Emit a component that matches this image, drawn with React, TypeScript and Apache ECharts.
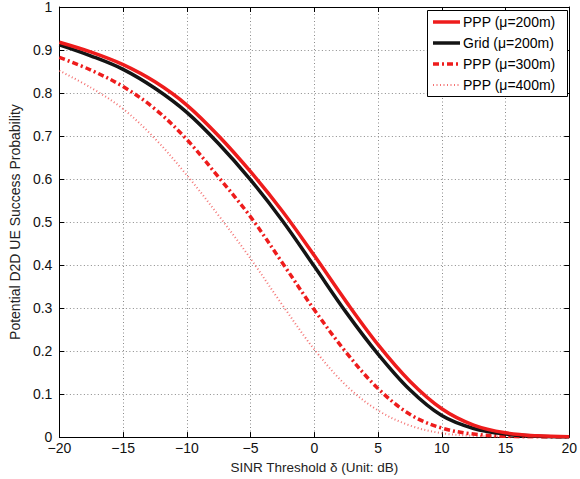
import React, { useEffect, useRef } from "react";
import * as echarts from "echarts";

const thresholds = [-20, -17.5, -15, -12.5, -10, -7.5, -5, -2.5, 0, 2.5, 5, 7.5, 10, 12.5, 15, 17.5, 20];
const ppp200 = [0.918, 0.895, 0.866, 0.826, 0.772, 0.70, 0.617, 0.525, 0.422, 0.315, 0.215, 0.13, 0.066, 0.028, 0.01, 0.003, 0.001];
const grid200 = [0.912, 0.886, 0.855, 0.811, 0.755, 0.682, 0.598, 0.503, 0.397, 0.29, 0.193, 0.11, 0.05, 0.02, 0.007, 0.002, 0.0005];
const ppp300 = [0.883, 0.853, 0.815, 0.763, 0.692, 0.604, 0.512, 0.405, 0.296, 0.197, 0.113, 0.053, 0.021, 0.007, 0.002, 0.0006, 0.0002];
const ppp400 = [0.852, 0.812, 0.763, 0.694, 0.609, 0.515, 0.415, 0.307, 0.204, 0.12, 0.062, 0.027, 0.009, 0.003, 0.001, 0.0003, 0.0001];
const seriesNames = ["PPP (\u03bc=200m)", "Grid (\u03bc=200m)", "PPP (\u03bc=300m)", "PPP (\u03bc=400m)"];

const FONT = "Liberation Sans, Arial, Helvetica, sans-serif";
const RED = "#ee1c1c";
const BLACK = "#141414";
const PINK = "#f25a5a";

const styles = [
  { color: RED, width: 3.5, dash: null as number[] | null, opacity: 1 },
  { color: BLACK, width: 3.5, dash: null as number[] | null, opacity: 1 },
  { color: RED, width: 3.5, dash: [6, 3, 2, 3], opacity: 1 },
  { color: PINK, width: 2, dash: [1, 2.5], opacity: 0.85 },
];

export default function App() {
  const ref = useRef<HTMLDivElement>(null);
  useEffect(() => {
    if (!ref.current) return;
    const chart = echarts.init(ref.current, undefined, { renderer: "svg" });
    const pairs = (v: number[]) => thresholds.map((x, i) => [x, v[i]]);
    const gridLine = { show: true, lineStyle: { color: "#8a8a8a", width: 1, type: [1, 2.5] as any } };
    const axLine = { show: true, onZero: false, lineStyle: { color: "#000", width: 1 } };
    const ticks = { show: true, inside: true, length: 5, lineStyle: { color: "#000" } };
    const allData = [ppp200, grid200, ppp300, ppp400];
    const series = allData.map((d, i) => ({
      type: "line" as const,
      name: seriesNames[i],
      showSymbol: false,
      symbol: "none",
      smooth: 0.35,
      data: pairs(d),
      z: 10 - i,
      itemStyle: { color: styles[i].color },
      lineStyle: {
        color: styles[i].color,
        width: styles[i].width,
        type: (styles[i].dash || "solid") as any,
        opacity: styles[i].opacity,
      },
    }));

    const lx = 427, ly = 10, lw = 140, lh = 86;
    const legendEls: any[] = [
      {
        type: "rect",
        shape: { x: lx + 0.5, y: ly + 0.5, width: lw, height: lh },
        style: { fill: "#fff", stroke: "#000", lineWidth: 1 },
        z: 100,
      },
    ];
    seriesNames.forEach((n, i) => {
      const yy = ly + 12 + i * 21;
      legendEls.push({
        type: "line",
        shape: { x1: lx + 6, y1: yy, x2: lx + 33, y2: yy },
        style: {
          stroke: styles[i].color,
          lineWidth: styles[i].width,
          lineDash: styles[i].dash || undefined,
          opacity: styles[i].opacity,
        },
        z: 101,
      });
      legendEls.push({
        type: "text",
        x: lx + 36,
        y: yy,
        style: {
          text: n,
          fontSize: 14,
          fontFamily: FONT,
          fill: "#000",
          verticalAlign: "middle",
          textAlign: "left",
        },
        z: 101,
      });
    });

    chart.setOption({
      animation: false,
      textStyle: { fontFamily: FONT },
      grid: { left: 51, right: 8, top: 6, bottom: 41, containLabel: false },
      xAxis: [
        {
          type: "value",
          min: -20,
          max: 20,
          interval: 5,
          name: "SINR Threshold \u03b4 (Unit: dB)",
          nameLocation: "middle",
          nameGap: 22,
          nameTextStyle: { fontSize: 13.5, color: "#222", fontFamily: FONT },
          axisLine: axLine,
          axisTick: ticks,
          splitLine: gridLine,
          axisLabel: {
            fontSize: 14,
            color: "#111",
            margin: 4,
            fontFamily: FONT,
            formatter: (v: number) => String(v).replace("-", "\u2212"),
          },
        },
        {
          type: "value",
          position: "top",
          min: -20,
          max: 20,
          interval: 5,
          axisLine: axLine,
          axisTick: ticks,
          axisLabel: { show: false },
          splitLine: { show: false },
        },
      ],
      yAxis: [
        {
          type: "value",
          min: 0,
          max: 1,
          interval: 0.1,
          name: "Potential D2D UE Success Probability",
          nameLocation: "middle",
          nameGap: 31,
          nameTextStyle: { fontSize: 14, color: "#222", fontFamily: FONT },
          axisLine: axLine,
          axisTick: ticks,
          splitLine: gridLine,
          axisLabel: { fontSize: 14, color: "#111", margin: 7, fontFamily: FONT },
        },
        {
          type: "value",
          position: "right",
          min: 0,
          max: 1,
          interval: 0.1,
          axisLine: axLine,
          axisTick: ticks,
          axisLabel: { show: false },
          splitLine: { show: false },
        },
      ],
      series,
      graphic: legendEls,
    });
    return () => chart.dispose();
  }, []);
  return <div ref={ref} style={{ width: 580, height: 479, position: "absolute", left: 0, top: 0 }} />;
}
